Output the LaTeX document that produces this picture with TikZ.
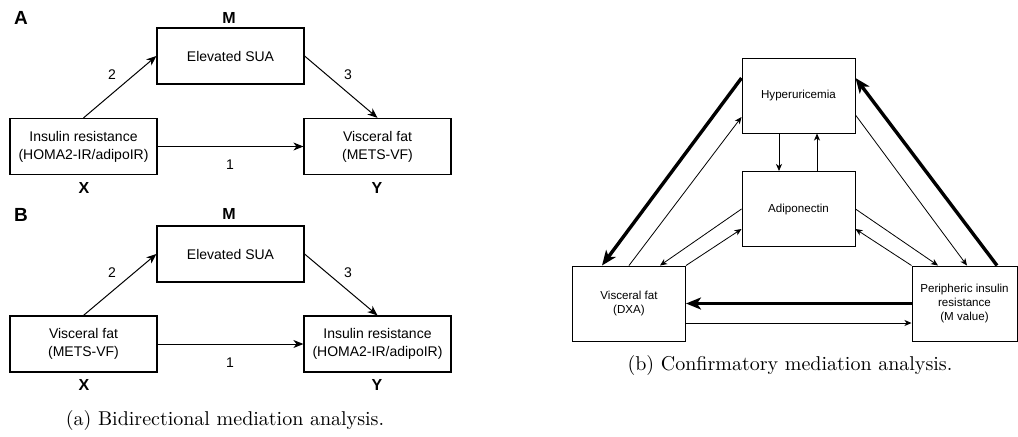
\documentclass[tikz,border=0pt]{standalone}
\usepackage{fontspec}
\newfontfamily\arialfont{Liberation Sans}
\usetikzlibrary{arrows.meta, positioning, calc}

\begin{document}
\begin{tikzpicture}[
                x=0.5pt, y=-0.5pt,
                box/.style={rectangle, draw, line width=0.6pt, minimum width=73.5pt, minimum height=28pt, align=center, inner sep=1pt, font=\arialfont\fontsize{7}{9}\selectfont},
                cbox/.style={rectangle, draw, line width=0.5pt, minimum width=56.5pt, minimum height=37.5pt, align=center, inner sep=1pt, font=\arialfont\fontsize{5.8}{7.2}\selectfont},
                lbl/.style={font=\arialfont\bfseries\fontsize{8}{9}\selectfont, inner sep=0pt},
                panel/.style={font=\arialfont\bfseries\fontsize{9.5}{10}\selectfont, inner sep=0pt},
                num/.style={font=\arialfont\fontsize{7}{9}\selectfont, inner sep=0pt},
                arr/.style={-{Stealth[length=5pt, width=4pt, inset=1.5pt]}, line width=0.5pt},
                thin arr/.style={-{Stealth[length=3.5pt, width=3pt, inset=1pt]}, line width=0.4pt},
                thick arr/.style={-{Stealth[length=7.5pt, width=6pt, inset=2pt]}, line width=1.7pt},
                every node/.style={align=center}
            ]
            \useasboundingbox (0,0) rectangle (1018,436);

            % panel A
            \node[panel] (labA) at (21,18) {A};
            \node[lbl] (mA) at (229,18) {M};
            \node[box] (suaA) at (230.5,56) {Elevated SUA};
            \node[box] (xA) at (83.5,146.5) {Insulin resistance\\(HOMA2-IR/adipoIR)};
            \node[box] (yA) at (377.5,146.5) {Visceral fat\\(METS-VF)};
            \node[lbl] (xlabA) at (84,188) {X};
            \node[lbl] (ylabA) at (377,188) {Y};

            \draw[arr] (xA.north) -- (suaA.west);
            \draw[arr] (suaA.east) -- (yA.north);
            \draw[arr] (xA.east) -- (yA.west);
            \node[num] (twoA) at (112,75) {2};
            \node[num] (threeA) at (348,75) {3};
            \node[num] (oneA) at (230,165) {1};

            % panel B
            \node[panel] (labB) at (21,215) {B};
            \node[lbl] (mB) at (229,214) {M};
            \node[box] (suaB) at (230.5,254) {Elevated SUA};
            \node[box] (xB) at (83.5,344) {Visceral fat\\(METS-VF)};
            \node[box] (yB) at (377.5,344) {Insulin resistance\\(HOMA2-IR/adipoIR)};
            \node[lbl] (xlabB) at (84,385) {X};
            \node[lbl] (ylabB) at (377,385) {Y};

            \draw[arr] (xB.north) -- (suaB.west);
            \draw[arr] (suaB.east) -- (yB.north);
            \draw[arr] (xB.east) -- (yB.west);
            \node[num] (twoB) at (112,273) {2};
            \node[num] (threeB) at (348,273) {3};
            \node[num] (oneB) at (230,363) {1};

            \node (capA) at (225,420) {(a) Bidirectional mediation analysis.};

            % confirmatory triangle
            \node[cbox] (hyp) at (798.5,95.5) {Hyperuricemia};
            \node[cbox] (adi) at (798.5,209) {Adiponectin};
            \node[cbox] (vis) at (629,303.5) {Visceral fat\\(DXA)};
            \node[cbox, minimum width=52.5pt] (per) at (964.5,303.5) {Peripheric insulin\\resistance\\(M value)};

            \draw[thick arr] ($(hyp.west)+(0,-17.5)$) -- ($(vis.north west)+(30,0)$);
            \draw[thin arr] (vis.north) -- ($(hyp.west)+(0,21.5)$);
            \draw[thin arr] (adi.west) -- ($(vis.north)+(31,0)$);
            \draw[thin arr] (vis.north east) -- ($(adi.west)+(0,20)$);

            \draw[thin arr] ($(hyp.south)+(-19.5,0)$) -- ($(adi.north)+(-19.5,0)$);
            \draw[thin arr] ($(adi.north)+(18.5,0)$) -- ($(hyp.south)+(18.5,0)$);

            \draw[thick arr] ($(per.north)+(32.5,0)$) -- ($(hyp.east)+(0,-17.5)$);
            \draw[thin arr] ($(hyp.east)+(0,19.5)$) -- ($(per.north)+(2.5,0)$);
            \draw[thin arr] (adi.east) -- ($(per.north)+(-26.5,0)$);
            \draw[thin arr] (per.north west) -- ($(adi.east)+(0,20)$);

            \draw[thick arr] (per.west) -- (vis.east);
            \draw[thin arr] ($(vis.east)+(0,19.5)$) -- ($(per.west)+(0,19.5)$);

            \node (capB) at (790,365) {(b) Confirmatory mediation analysis.};

\end{tikzpicture}
\end{document}
